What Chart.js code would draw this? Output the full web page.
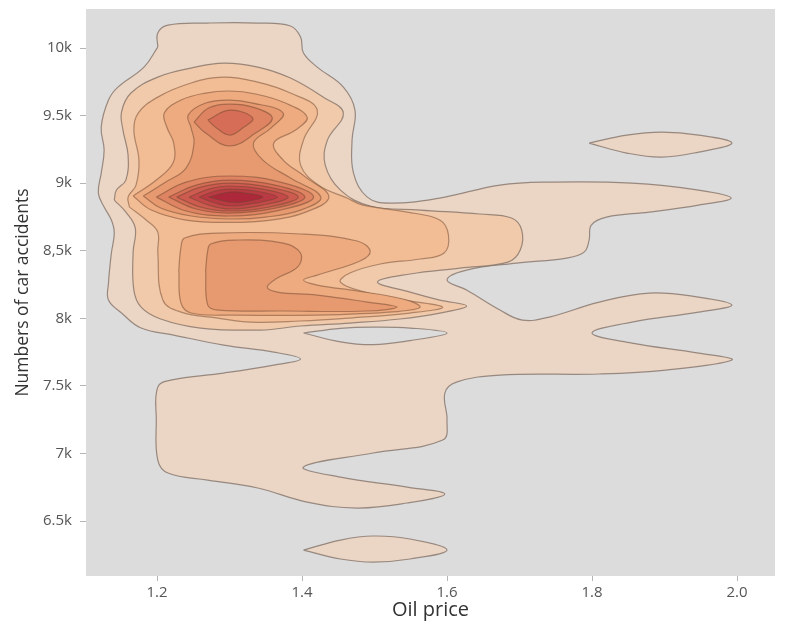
<!DOCTYPE html>
<html>
<head>
<meta charset="utf-8">
<script src="https://cdn.jsdelivr.net/npm/chart.js@4.4.1/dist/chart.umd.min.js"></script>
<style>
  body { margin: 0; background: #ffffff; }
  canvas { display: block; }
</style>
</head>
<body>
<canvas id="kde" width="787" height="628"></canvas>
<script>
// axis ticks
const xTickValues = [1.2, 1.4, 1.6, 1.8, 2.0];
const xTickLabels = ['1.2', '1.4', '1.6', '1.8', '2.0'];
const yTickValues = [6500, 7000, 7500, 8000, 8500, 9000, 9500, 10000];
const yTickLabels = ['6.5k', '7k', '7.5k', '8k', '8,5k', '9k', '9.5k', '10k'];

// contour polygons [oil price, accidents], outermost level first
const level1Main = [[1.201,10007],[1.201,10111],[1.215,10170],[1.270,10185],[1.339,10185],[1.384,10163],[1.398,10081],[1.402,9963],[1.421,9859],[1.457,9711],[1.473,9541],[1.469,9319],[1.471,9075],[1.490,8897],[1.521,8853],[1.590,8890],[1.673,8986],[1.741,9008],[1.855,9001],[1.947,8949],[1.992,8890],[1.947,8838],[1.879,8786],[1.820,8749],[1.799,8690],[1.796,8579],[1.789,8490],[1.765,8446],[1.696,8409],[1.627,8357],[1.600,8283],[1.627,8209],[1.673,8061],[1.704,7987],[1.741,8009],[1.810,8120],[1.879,8187],[1.947,8157],[1.993,8098],[1.947,8046],[1.855,7972],[1.800,7891],[1.855,7817],[1.947,7743],[1.993,7691],[1.902,7617],[1.810,7588],[1.673,7580],[1.613,7528],[1.597,7447],[1.600,7247],[1.594,7099],[1.498,7003],[1.402,6900],[1.453,6825],[1.545,6751],[1.597,6700],[1.545,6633],[1.476,6596],[1.407,6640],[1.339,6744],[1.270,6803],[1.215,6855],[1.201,6951],[1.199,7247],[1.201,7491],[1.219,7543],[1.292,7595],[1.361,7654],[1.398,7699],[1.361,7750],[1.292,7802],[1.223,7876],[1.178,7928],[1.151,8039],[1.133,8135],[1.133,8261],[1.137,8483],[1.141,8631],[1.137,8727],[1.127,8823],[1.119,8927],[1.123,9075],[1.127,9245],[1.123,9415],[1.133,9615],[1.146,9711],[1.182,9859],[1.201,10007]];
const level1IslandTop = [[1.796,9297],[1.848,9356],[1.896,9378],[1.947,9356],[1.993,9297],[1.947,9230],[1.896,9193],[1.848,9223],[1.796,9297]];
const level1IslandBottom = [[1.402,6285],[1.453,6359],[1.498,6389],[1.549,6367],[1.600,6285],[1.549,6219],[1.498,6196],[1.453,6219],[1.402,6285]];
const level1Hole = [[1.402,7891],[1.453,7926],[1.498,7935],[1.549,7928],[1.600,7891],[1.549,7835],[1.498,7805],[1.453,7826],[1.402,7891]];

const level2 = [[1.141,8875],[1.144,8949],[1.157,9023],[1.160,9208],[1.153,9393],[1.151,9526],[1.164,9667],[1.201,9785],[1.247,9852],[1.292,9889],[1.339,9859],[1.384,9778],[1.429,9637],[1.457,9519],[1.435,9319],[1.432,9134],[1.453,8949],[1.494,8831],[1.563,8801],[1.645,8772],[1.689,8742],[1.703,8653],[1.701,8505],[1.684,8416],[1.618,8372],[1.549,8328],[1.504,8268],[1.549,8194],[1.590,8135],[1.627,8091],[1.590,8039],[1.535,7995],[1.466,7965],[1.398,7943],[1.343,7913],[1.260,7928],[1.205,7995],[1.178,8083],[1.168,8209],[1.167,8490],[1.170,8668],[1.157,8786],[1.141,8875]];

const level3 = [[1.162,8823],[1.160,8897],[1.171,8986],[1.175,9171],[1.168,9393],[1.174,9519],[1.201,9637],[1.247,9741],[1.292,9785],[1.339,9748],[1.384,9667],[1.421,9541],[1.402,9319],[1.398,9134],[1.423,8985],[1.462,8890],[1.484,8838],[1.545,8786],[1.590,8727],[1.602,8616],[1.596,8483],[1.563,8439],[1.508,8402],[1.466,8335],[1.453,8268],[1.487,8194],[1.542,8135],[1.594,8083],[1.549,8039],[1.466,8002],[1.398,7980],[1.329,7972],[1.284,8002],[1.233,8046],[1.208,8135],[1.201,8490],[1.201,8638],[1.185,8727],[1.162,8823]];

const level4Upper = [[1.167,8905],[1.199,9023],[1.222,9149],[1.223,9297],[1.214,9408],[1.210,9519],[1.233,9615],[1.267,9667],[1.300,9682],[1.336,9660],[1.377,9593],[1.407,9489],[1.391,9393],[1.361,9297],[1.374,9171],[1.405,9045],[1.437,8897],[1.405,8786],[1.357,8727],[1.300,8710],[1.240,8727],[1.192,8801],[1.167,8905]];
const level4Lower = [[1.230,8357],[1.233,8527],[1.238,8594],[1.284,8631],[1.398,8624],[1.476,8572],[1.494,8498],[1.480,8424],[1.421,8320],[1.402,8283],[1.421,8246],[1.476,8202],[1.539,8143],[1.563,8083],[1.531,8050],[1.421,8024],[1.306,8024],[1.247,8039],[1.233,8113],[1.230,8357]];

const level5Upper = [[1.181,8905],[1.212,9008],[1.240,9112],[1.251,9297],[1.247,9408],[1.243,9504],[1.267,9593],[1.300,9615],[1.332,9593],[1.374,9519],[1.357,9408],[1.333,9297],[1.346,9171],[1.384,9038],[1.426,8897],[1.398,8801],[1.350,8749],[1.300,8735],[1.247,8757],[1.205,8816],[1.181,8905]];
const level5Lower = [[1.267,8357],[1.270,8505],[1.274,8550],[1.306,8579],[1.374,8557],[1.398,8483],[1.394,8380],[1.366,8298],[1.352,8231],[1.366,8194],[1.421,8172],[1.490,8120],[1.531,8083],[1.490,8054],[1.374,8054],[1.284,8061],[1.270,8098],[1.267,8357]];

const level6Upper = [[1.251,9452],[1.271,9556],[1.300,9585],[1.332,9563],[1.359,9482],[1.336,9371],[1.300,9275],[1.267,9371],[1.251,9452]];
const level6Lower = [[1.199,8897],[1.240,9008],[1.300,9053],[1.370,9008],[1.416,8897],[1.370,8801],[1.300,8757],[1.240,8794],[1.199,8897]];
const level7Upper = [[1.270,9467],[1.300,9541],[1.332,9482],[1.318,9408],[1.300,9356],[1.282,9408],[1.270,9467]];
const level7Lower = [[1.216,8897],[1.254,8986],[1.300,9023],[1.363,8986],[1.404,8897],[1.363,8816],[1.300,8779],[1.254,8809],[1.216,8897]];
const level8 = [[1.227,8897],[1.260,8971],[1.300,9001],[1.354,8971],[1.395,8897],[1.354,8823],[1.300,8794],[1.260,8823],[1.227,8897]];
const level9 = [[1.244,8897],[1.271,8956],[1.300,8979],[1.346,8956],[1.381,8897],[1.346,8838],[1.300,8809],[1.271,8838],[1.244,8897]];
const level10 = [[1.258,8897],[1.280,8942],[1.300,8956],[1.336,8942],[1.366,8897],[1.336,8853],[1.300,8831],[1.280,8853],[1.258,8897]];
const level11 = [[1.271,8897],[1.300,8934],[1.322,8927],[1.346,8897],[1.322,8864],[1.300,8860],[1.271,8897]];

const plotBg = '#dcdcdc';
const levelColors = ['#ebd5c4', '#f1caab', '#f2bc95', '#eeab80', '#e79a70', '#df8462',
                     '#d66e57', '#cd5b50', '#c44a4a', '#ba3a44', '#ad283a'];

// drawing sequence: [polygon, level index, is hole]
const layers = [
    [level1Main, 0], [level1IslandTop, 0], [level1IslandBottom, 0], [level1Hole, 0, true],
    [level2, 1], [level3, 2],
    [level4Upper, 3], [level4Lower, 3],
    [level5Upper, 4], [level5Lower, 4],
    [level6Upper, 5], [level6Lower, 5],
    [level7Upper, 6], [level7Lower, 6],
    [level8, 7], [level9, 8], [level10, 9], [level11, 10]
];

const datasets = layers.map(function (layer, i) {
    const pts = layer[0], lvl = layer[1], hole = layer[2];
    return {
        data: pts.map(p => ({ x: p[0], y: p[1] })),
        showLine: true,
        fill: 'shape',
        backgroundColor: hole ? plotBg : levelColors[lvl],
        borderColor: lvl < 2 ? 'rgba(125,110,100,0.75)' : 'rgba(110,70,45,0.5)',
        borderWidth: 1.2,
        pointRadius: 0,
        tension: 0.4,
        order: 100 - i
    };
});

const plotBackground = {
    id: 'plotBackground',
    beforeDraw(chart) {
        const a = chart.chartArea, ctx = chart.ctx;
        ctx.save();
        ctx.fillStyle = plotBg;
        ctx.fillRect(a.left, a.top, a.right - a.left, a.bottom - a.top);
        ctx.restore();
    }
};

function pick(values, labels, v) {
    const i = values.findIndex(t => Math.abs(t - v) < 1e-6);
    return i < 0 ? '' : labels[i];
}

new Chart(document.getElementById('kde'), {
    type: 'scatter',
    data: { datasets: datasets },
    options: {
        responsive: false,
        animation: false,
        devicePixelRatio: 1,
        layout: { padding: { left: 0, right: 12, top: 9, bottom: 0 } },
        plugins: { legend: { display: false }, tooltip: { enabled: false } },
        scales: {
            x: {
                type: 'linear',
                min: 1.102,
                max: 2.0524,
                afterBuildTicks: s => { s.ticks = xTickValues.map(v => ({ value: v })); },
                afterFit: s => { s.height = 52; s.paddingLeft = 0; s.paddingRight = 0; },
                border: { display: false },
                grid: { drawOnChartArea: false, drawTicks: true, tickLength: 5, color: '#b5b5b5' },
                ticks: {
                    padding: 3,
                    color: '#555',
                    font: { family: 'Open Sans', size: 15 },
                    callback: v => pick(xTickValues, xTickLabels, v)
                },
                title: {
                    display: true,
                    text: 'Oil price',
                    color: '#333',
                    font: { family: 'Open Sans', size: 20 },
                    padding: { top: 0, bottom: 6 }
                }
            },
            y: {
                type: 'linear',
                min: 6093,
                max: 10289,
                afterBuildTicks: s => { s.ticks = yTickValues.map(v => ({ value: v })); },
                afterFit: s => { s.width = 86; s.paddingTop = 0; s.paddingBottom = 0; },
                border: { display: false },
                grid: { drawOnChartArea: false, drawTicks: true, tickLength: 6, color: '#b5b5b5' },
                ticks: {
                    padding: 8,
                    color: '#555',
                    font: { family: 'Open Sans', size: 15 },
                    callback: v => pick(yTickValues, yTickLabels, v)
                },
                title: {
                    display: true,
                    text: 'Numbers of car accidents',
                    color: '#333',
                    font: { family: 'Open Sans', size: 17.5 },
                    padding: { top: 13, bottom: 0 }
                }
            }
        }
    },
    plugins: [plotBackground]
});
</script>
</body>
</html>
